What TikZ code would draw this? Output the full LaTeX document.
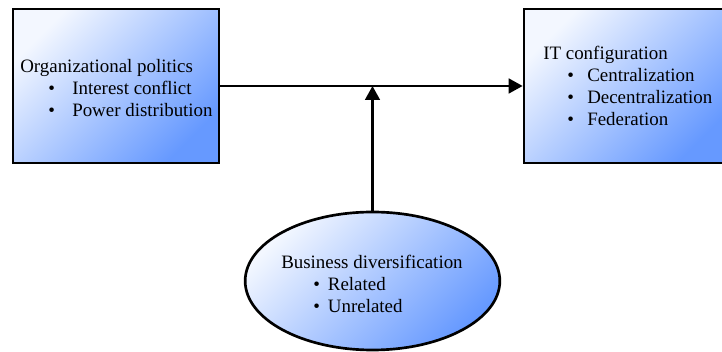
\documentclass[tikz,border=0pt]{standalone}
\usepackage{fontspec}
\setmainfont{Liberation Serif}
\usetikzlibrary{shapes.geometric,arrows.meta}

\definecolor{boxblue}{RGB}{102,153,255}
\newcommand{\bul}[3]{\hspace*{#1}\makebox[#2][l]{\textbullet}#3}

\tikzset{
  shadebox/.style={draw=black,line width=2pt,shading=axis,top color=boxblue!8!white,bottom color=boxblue,shading angle=45},
  linkarrow/.style={line width=2pt,-{Triangle[length=10.5pt,width=11pt]}},
  boxtext/.style={anchor=west,align=left,inner sep=0pt,font=\fontsize{14.2}{16.5}\selectfont}
}

\begin{document}
\begin{tikzpicture}[x=0.75pt,y=0.75pt,yscale=-1,xscale=1]
\useasboundingbox (0,0) rectangle (722,352);

% Boxes
\node (politics) [shadebox,minimum width=154.5pt,minimum height=115.5pt] at (116,86) {};
\node (itconf) [shadebox,minimum width=154.5pt,minimum height=115.5pt] at (627,86) {};
% Ellipse
\node (business) [shadebox,ellipse,minimum width=191pt,minimum height=103.5pt] at (372.5,281) {};

% Text Node
\node (politicstext) [boxtext] at (20,88) {Organizational politics\\
  \bul{21pt}{18pt}{Interest conflict}\\
  \bul{21pt}{18pt}{Power distribution}};
% Text Node
\node (itconftext) [boxtext] at (543,85.5) {IT configuration\\
  \bul{18pt}{15pt}{Centralization}\\
  \bul{18pt}{15pt}{Decentralization}\\
  \bul{18pt}{15pt}{Federation}};
% Text Node
\node (businesstext) [boxtext] at (281,284) {Business diversification\\
  \bul{24pt}{11pt}{Related}\\
  \bul{24pt}{11pt}{Unrelated}};

% Arrows
\draw [linkarrow] (politics.east) -- (itconf.west);
\draw [linkarrow] (business.north) -- (business.north |- politics.east);

\end{tikzpicture}
\end{document}
